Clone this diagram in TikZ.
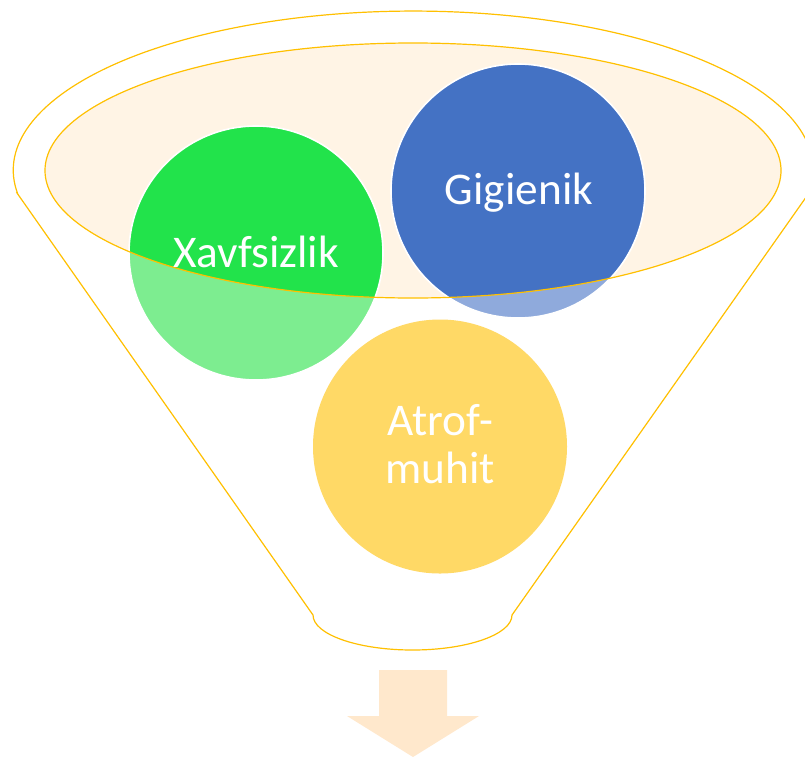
\documentclass[tikz,border=0pt]{standalone}
\usepackage{fontspec}
\setmainfont{Carlito}
\definecolor{funnelline}{HTML}{FFC000}
\definecolor{funnelfill}{HTML}{FFF4E5}
\definecolor{xgreen}{HTML}{22E34B}
\definecolor{xgreenlight}{HTML}{7DED90}
\definecolor{gblue}{HTML}{4472C4}
\definecolor{gbluelight}{HTML}{8FAADC}
\definecolor{ayellow}{HTML}{FFD966}
\definecolor{arrowfill}{HTML}{FFE8CC}
\tikzset{
	balltext/.style={text=white,font=\fontsize{34}{37}\selectfont,anchor=base,inner sep=0pt},
	funnelstroke/.style={draw=funnelline,line width=0.9pt},
}
\begin{document}
\begin{tikzpicture}[x=0.75pt,y=-0.75pt]
		\useasboundingbox (0,0) rectangle (805,757);
		\clip (0,0) rectangle (805,757);
		\fill[color=white] (0,0) rectangle (805,757);
		% funnel body
		\draw[funnelstroke] (17,193) -- (313,615) arc[start angle=180,end angle=0,x radius=99.5,y radius=35]
			-- (809,193) arc[start angle=8.3,end angle=-188.3,x radius=400,y radius=159] -- cycle;
		% inner opening
		\fill[color=funnelfill] (413,170.5) ellipse[x radius=368,y radius=127.5];
		% circles, light outside the opening
		\fill[color=xgreenlight] (256,253) circle[radius=127];
		\fill[color=gbluelight] (518,191) circle[radius=127];
		\fill[color=ayellow] (440,446.5) circle[radius=127];
		\begin{scope}
			\clip (413,170.5) ellipse[x radius=368,y radius=127.5];
			\fill[color=xgreen] (256,253) circle[radius=127];
			\fill[color=gblue] (518,191) circle[radius=127];
		\end{scope}
		\draw[color=white,line width=1.2pt] (256,253) circle[radius=127];
		\draw[color=white,line width=1.2pt] (518,191) circle[radius=127];
		\draw[funnelstroke] (413,170.5) ellipse[x radius=368,y radius=127.5];
		% labels
		\node[balltext] (xavf) at (256,267) {Xavfsizlik};
		\node[balltext] (gig) at (519,204) {Gigienik};
		\node[balltext] (atrof) at (440,435) {Atrof-};
		\node[balltext] (muhit) at (440,483) {muhit};
		% arrow out
		\fill[color=arrowfill] (379,670) -- (447,670) -- (447,716) -- (479,716) -- (413,757)
			-- (347,716) -- (379,716) -- cycle;
	\end{tikzpicture}
\end{document}
